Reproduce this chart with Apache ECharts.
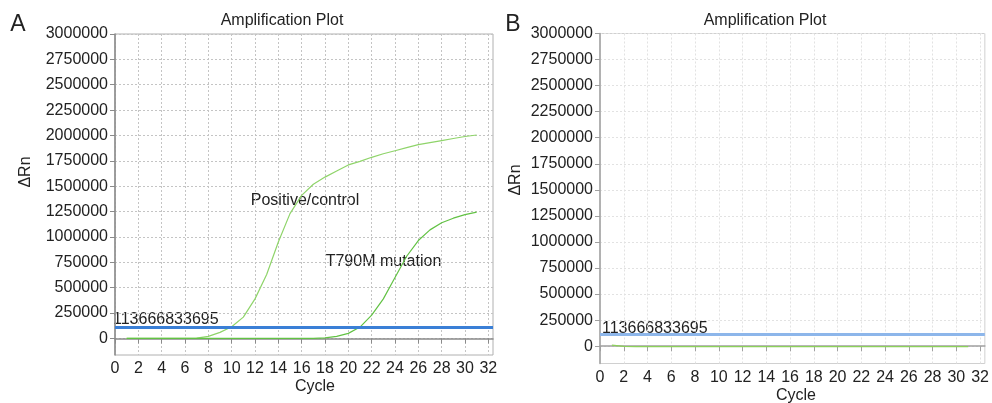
<!DOCTYPE html>
<html><head><meta charset="utf-8">
<script src="https://cdn.jsdelivr.net/npm/echarts@6/dist/echarts.min.js"></script>
<style>html,body{margin:0;padding:0;background:#fff}#c{width:992px;height:403px}</style>
</head><body><div id="c"></div>
<script>
// ---- data ----
const cycles = [1,2,3,4,5,6,7,8,9,10,11,12,13,14,15,16,17,18,19,20,21,22,23,24,25,26,27,28,29,30,31];
const positiveControl = [0,0,0,0,0,0,3000,20000,60000,115000,210000,390000,630000,950000,1230000,1410000,1520000,1590000,1650000,1710000,1745000,1785000,1820000,1850000,1880000,1910000,1930000,1950000,1970000,1990000,2005000];
const t790mMutation = [0,0,0,0,0,0,0,0,0,0,0,0,0,0,0,0,1000,5000,20000,50000,112000,230000,390000,600000,810000,965000,1070000,1140000,1185000,1220000,1245000];
const panelBSample = [10000,-2000,-4000,-5000,-5000,-5000,-5000,-5000,-5000,-5000,-5000,-5000,-5000,-5000,-5000,-5000,-5000,-5000,-5000,-5000,-5000,-5000,-5000,-5000,-5000,-5000,-5000,-5000,-5000,-5000,-5000];
const threshold = 113666.833695;
const thresholdLabel = '113666833695';
const yTicks = [0,250000,500000,750000,1000000,1250000,1500000,1750000,2000000,2250000,2500000,2750000,3000000];
const xTicks = [0,2,4,6,8,10,12,14,16,18,20,22,24,26,28,30,32];

const FONT = "'Liberation Sans', Arial, Helvetica, sans-serif";
const FS = 16;
const chart = echarts.init(document.getElementById('c'), null, {renderer: 'canvas'});

function xAxisCfg(idx, gridCol, axisCol) {
  return {
    type: 'value', gridIndex: idx, min: 0, max: 32.4,
    axisLine: {show: true, lineStyle: {color: axisCol, width: 1.5}},
    axisTick: {show: true, length: 5, customValues: xTicks, lineStyle: {color: axisCol}},
    axisLabel: {customValues: xTicks, color: '#222', fontSize: FS, fontFamily: FONT, margin: 6,
                formatter: v => String(v)},
    splitLine: {show: true, lineStyle: {color: gridCol, type: [2, 2], width: 1}}
  };
}
function yAxisCfg(idx, min, gridCol, axisCol) {
  return {
    type: 'value', gridIndex: idx, min: min, max: 3000000,
    axisLine: {show: true, lineStyle: {color: axisCol, width: 1.5}},
    axisTick: {show: true, length: 5, customValues: yTicks, lineStyle: {color: axisCol}},
    axisLabel: {customValues: yTicks, color: '#222', fontSize: FS, fontFamily: FONT, margin: 7,
                formatter: v => String(v)},
    splitLine: {show: true, lineStyle: {color: gridCol, type: [2, 2], width: 1}}
  };
}
const pairs = arr => cycles.map((c, i) => [c, arr[i]]);

function thresholdMark(color) {
  return {
    silent: true, symbol: 'none', animation: false,
    lineStyle: {color: color, width: 3, type: 'solid'},
    label: {show: false},
    data: [{yAxis: threshold}]
  };
}

const txt = (x, y, text, size, extra) => ({
  type: 'text', x: x, y: y,
  style: Object.assign({text: text, fill: '#222', font: size + 'px ' + FONT, textAlign: 'center', textVerticalAlign: 'middle'}, extra || {})
});

chart.setOption({
  animation: false,
  backgroundColor: '#fff',
  grid: [
    {left: 115, top: 34, width: 378, height: 321, show: true, borderColor: '#b0b0b0', borderWidth: 1},
    {left: 600, top: 33.5, width: 388, height: 330, show: true, borderColor: '#d0d0d0', borderWidth: 1}
  ],
  xAxis: [xAxisCfg(0, '#c4c4c4', '#8a8a8a'), xAxisCfg(1, '#e2e2e2', '#a0a0a0')],
  yAxis: [yAxisCfg(0, -163000, '#c4c4c4', '#8a8a8a'), yAxisCfg(1, -166000, '#e2e2e2', '#a0a0a0')],
  series: [
    {type: 'line', xAxisIndex: 0, yAxisIndex: 0, data: pairs(positiveControl), showSymbol: false,
     lineStyle: {color: '#8fd46a', width: 1.2}, z: 3},
    {type: 'line', xAxisIndex: 0, yAxisIndex: 0, data: pairs(t790mMutation), showSymbol: false,
     lineStyle: {color: '#62c244', width: 1.2}, z: 3, markLine: thresholdMark('#3a7fd6')},
    {type: 'line', xAxisIndex: 1, yAxisIndex: 1, data: pairs(panelBSample), showSymbol: false,
     lineStyle: {color: '#8cd05a', width: 1.2}, z: 3, markLine: thresholdMark('#8db6ea')}
  ],
  graphic: [
    txt(18, 25, 'A', 23),
    txt(513, 25, 'B', 23),
    txt(282, 21, 'Amplification Plot', FS),
    txt(765, 21, 'Amplification Plot', FS),
    Object.assign(txt(26, 172, 'ΔRn', FS), {rotation: Math.PI / 2}),
    Object.assign(txt(516, 180, 'ΔRn', FS), {rotation: Math.PI / 2}),
    txt(315, 387, 'Cycle', FS),
    txt(796, 396, 'Cycle', FS),
    txt(113, 320, thresholdLabel, FS, {textAlign: 'left'}),
    txt(602, 328.5, thresholdLabel, FS, {textAlign: 'left'}),
    txt(305, 201, 'Positive/control', FS),
    txt(383.5, 262, 'T790M mutation', FS)
  ]
});
</script></body></html>
